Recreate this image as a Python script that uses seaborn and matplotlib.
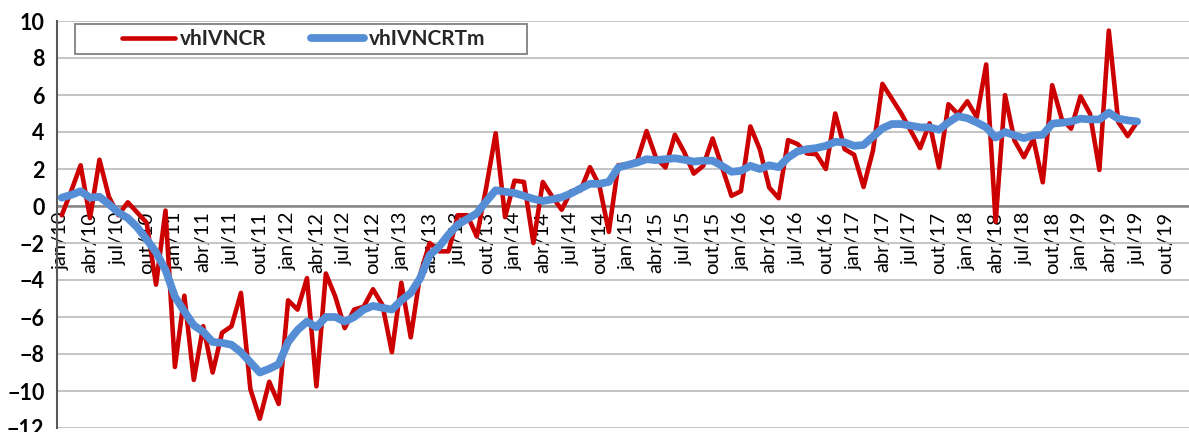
import numpy as np
import pandas as pd
import seaborn as sns
import matplotlib.pyplot as plt
from matplotlib.patches import Rectangle

# month labels (pt), category axis runs jan/10 .. dez/19
months = ['jan', 'fev', 'mar', 'abr', 'mai', 'jun', 'jul', 'ago', 'set', 'out', 'nov', 'dez']
years = list(range(10, 20))

# monthly values jan/10 .. jul/19
vhIVNCR = [
    -0.5, 0.8, 2.2, -0.65, 2.5, 0.5, -0.5, 0.2, -0.35, -0.9,
    -4.25, -0.25, -8.7, -4.85, -9.4, -6.5, -9.0, -6.85, -6.5, -4.7,
    -9.9, -11.5, -9.5, -10.7, -5.1, -5.6, -3.9, -9.75, -3.65, -4.9,
    -6.6, -5.6, -5.45, -4.5, -5.35, -7.9, -4.15, -7.1, -3.7,
    -2.0, -2.45, -2.45, -0.5, -0.5, -1.65, 1.0, 3.93, -0.6, 1.37,
    1.3, -2.0, 1.3, 0.5, -0.2, 0.8, 0.85, 2.1, 1.1, -1.4,
    2.2, 2.25, 2.45, 4.05, 2.6, 2.08, 3.85, 2.9, 1.75, 2.17,
    3.65, 2.1, 0.55, 0.8, 4.3, 3.07, 1.0, 0.42, 3.56, 3.35, 2.84,
    2.8, 2.0, 5.0, 3.07, 2.77, 1.03, 3.0, 6.6, 5.8, 5.0,
    4.07, 3.13, 4.47, 2.08, 5.5, 4.97, 5.66, 4.8, 7.65, -0.85,
    5.99, 3.54, 2.64, 3.63, 1.28, 6.53, 4.72, 4.18, 5.93, 4.99,
    1.95, 9.48, 4.54, 3.78, 4.54,
]
vhIVNCRTm = [
    0.45, 0.6, 0.8, 0.45, 0.5, 0.1, -0.35, -0.65, -1.15, -1.8,
    -2.5, -3.45, -4.9, -5.7, -6.45, -6.8, -7.35, -7.4, -7.5, -7.9,
    -8.45, -9.0, -8.8, -8.55, -7.35, -6.7, -6.25, -6.55, -6.0, -6.0,
    -6.25, -6.0, -5.6, -5.4, -5.5, -5.6, -5.1, -4.7, -3.9,
    -2.65, -2.2, -1.55, -1.0, -0.7, -0.4, 0.25, 0.85, 0.77, 0.7,
    0.55, 0.38, 0.27, 0.36, 0.47, 0.68, 0.95, 1.2, 1.2, 1.3,
    2.08, 2.22, 2.35, 2.53, 2.48, 2.53, 2.58, 2.5, 2.4, 2.45,
    2.45, 2.17, 1.85, 1.9, 2.17, 2.0, 2.2, 2.1, 2.62, 2.95, 3.07,
    3.13, 3.25, 3.47, 3.44, 3.25, 3.3, 3.75, 4.2, 4.43, 4.43,
    4.34, 4.25, 4.25, 4.12, 4.52, 4.85, 4.75, 4.52, 4.25, 3.7,
    4.0, 3.82, 3.67, 3.82, 3.85, 4.45, 4.5, 4.57, 4.72, 4.68,
    4.68, 5.05, 4.72, 4.63, 4.57,
]

labels = [f"{m}/{y}" for y in years for m in months]
n_cat = len(labels)

df = pd.DataFrame({'pos': np.arange(len(vhIVNCR)),
                   'vhIVNCR': vhIVNCR,
                   'vhIVNCRTm': vhIVNCRTm})

sns.set_style('white')
plt.rcParams['font.family'] = ['Lato', 'DejaVu Sans']

W, H = 1189, 432
fig = plt.figure(figsize=(W / 100, H / 100), dpi=100)
ax = fig.add_axes([57 / W, 4 / H, (W - 57) / W, 407 / H])

sns.lineplot(data=df, x='pos', y='vhIVNCR', color='#CC0000', linewidth=3.3,
             ax=ax, label='vhIVNCR', zorder=3)
sns.lineplot(data=df, x='pos', y='vhIVNCRTm', color='#558ED5', linewidth=5.6,
             ax=ax, label='vhIVNCRTm', zorder=4, solid_capstyle='round')
for ln in ax.lines:
    ln.set_solid_joinstyle('round')

ax.set_xlim(-0.5, n_cat - 0.5)
ax.set_ylim(-12, 10)
ax.set_yticks(range(-12, 11, 2))
ax.yaxis.grid(True, color='#C0C0C0', linewidth=1.3)
ax.xaxis.grid(False)
ax.set_axisbelow(True)
ax.set_xlabel('')
ax.set_ylabel('')

for s in ['top', 'right']:
    ax.spines[s].set_visible(False)
ax.spines['left'].set_color('#595959')
ax.spines['left'].set_linewidth(1.5)
ax.spines['bottom'].set_position(('data', 0))
ax.spines['bottom'].set_color('#868686')
ax.spines['bottom'].set_linewidth(1.8)
ax.spines['bottom'].set_zorder(2)

ax.set_xticks(range(0, n_cat, 3))
ax.set_xticklabels(labels[::3], rotation=90, fontsize=14.5, color='black')
ax.set_xticks(np.arange(-0.5, n_cat, 1), minor=True)
ax.tick_params(axis='x', which='major', length=0, pad=4)
ax.tick_params(axis='x', which='minor', length=4, width=1.2, color='#868686', direction='out')
ax.tick_params(axis='y', which='major', length=5, width=1.2, color='#595959', direction='out', pad=4)
for t in ax.get_yticklabels():
    t.set_fontweight('bold')
    t.set_fontsize(15.5)
    t.set_color('black')

leg = ax.legend(loc='center left', bbox_to_anchor=(122 / W, 1 - 39 / H),
                bbox_transform=fig.transFigure, ncol=2, frameon=False,
                prop={'weight': 'bold', 'size': 15}, handlelength=2.55,
                handletextpad=0.25, columnspacing=2.1, borderpad=0, borderaxespad=0)
leg.set_zorder(6)
box = Rectangle((75 / W, 1 - 54 / H), 452 / W, 30 / H, transform=fig.transFigure,
                facecolor='white', edgecolor='#808080', linewidth=1.3, zorder=5,
                clip_on=False)
ax.add_patch(box)

plt.savefig('out.png', dpi=100)
